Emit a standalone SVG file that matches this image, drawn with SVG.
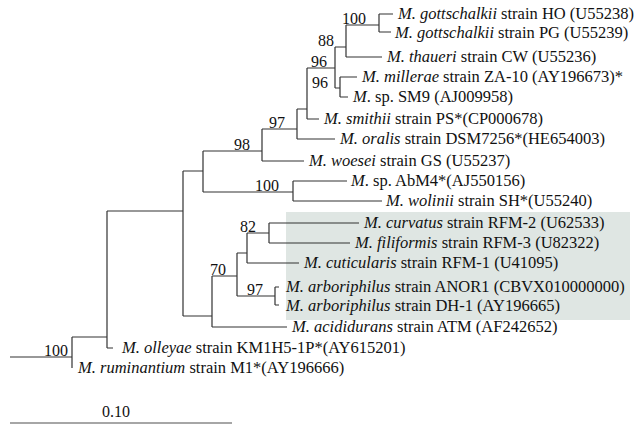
<svg xmlns="http://www.w3.org/2000/svg" width="644" height="434" viewBox="0 0 644 434">
<style>
.t{font-family:"Liberation Serif","Times New Roman",serif;font-size:16px;fill:#111}
.tip{font-size:16.5px}
.i{font-style:italic}
.bs{text-anchor:end}
.br{fill:none;stroke:#333;stroke-width:1.2}
.sb{fill:none;stroke:#888;stroke-width:1.6}
</style>
<rect id="highlight" x="286" y="212" width="344" height="108" fill="#dfe6e3"/>
<g id="connectors">
<path class="br" d="M10,357H72M72,337V368M72,337H107M107,211V348M107,348H113M107,211H183M183,171V316M183,171H203M203,151V192M183,316H212M212,276V327M212,327H287M212,276H237M237,253V296M237,253H247M247,233V263M247,233H269M269,223V243M269,223H359M269,243H350M247,263H299M237,296H275M275,287V305M275,287H279M275,305H279M203,151H262M262,129V161M262,161H304M203,192H293M293,181V201M293,181H347M293,201H382M262,129H297M297,109V139M297,139H335M297,109H307M307,68V119M307,119H319M307,68H335M335,47V88M335,47H346M346,25V57M346,57H382M346,25H379M379,14V32M379,14H393M379,32H391M335,88H340M340,77V97M340,77H357M340,97H348"/>
</g>
<g id="tip-gottschalkii-HO"><text class="t tip" x="398" y="18.5"><tspan class="i">M. gottschalkii</tspan> strain HO (U55238)</text></g>
<g id="tip-gottschalkii-PG"><text class="t tip" x="395" y="37.5"><tspan class="i">M. gottschalkii</tspan> strain PG (U55239)</text></g>
<g id="tip-thaueri"><text class="t tip" x="387" y="62"><tspan class="i">M. thaueri</tspan> strain CW (U55236)</text></g>
<g id="tip-millerae"><text class="t tip" x="362" y="82"><tspan class="i">M. millerae</tspan> strain ZA-10 (AY196673)*</text></g>
<g id="tip-SM9"><text class="t tip" x="353" y="102"><tspan class="i">M</tspan>. sp. SM9 (AJ009958)</text></g>
<g id="tip-smithii"><text class="t tip" x="324" y="124"><tspan class="i">M. smithii</tspan> strain PS*(CP000678)</text></g>
<g id="tip-oralis"><text class="t tip" x="340" y="144"><tspan class="i">M. oralis</tspan> strain DSM7256*(HE654003)</text></g>
<g id="tip-woesei"><text class="t tip" x="309" y="166"><tspan class="i">M. woesei</tspan> strain GS (U55237)</text></g>
<g id="tip-AbM4"><text class="t tip" x="351" y="186"><tspan class="i">M</tspan>. sp. AbM4*(AJ550156)</text></g>
<g id="tip-wolinii"><text class="t tip" x="386" y="206"><tspan class="i">M. wolinii</tspan> strain SH*(U55240)</text></g>
<g id="tip-curvatus"><text class="t tip" x="364" y="228"><tspan class="i">M. curvatus</tspan> strain RFM-2 (U62533)</text></g>
<g id="tip-filiformis"><text class="t tip" x="355" y="248"><tspan class="i">M. filiformis</tspan> strain RFM-3 (U82322)</text></g>
<g id="tip-cuticularis"><text class="t tip" x="304" y="268"><tspan class="i">M. cuticularis</tspan> strain RFM-1 (U41095)</text></g>
<g id="tip-arboriphilus-ANOR1"><text class="t tip" x="286" y="291.5"><tspan class="i">M. arboriphilus</tspan> strain ANOR1 (CBVX010000000)</text></g>
<g id="tip-arboriphilus-DH1"><text class="t tip" x="286" y="310.5"><tspan class="i">M. arboriphilus</tspan> strain DH-1 (AY196665)</text></g>
<g id="tip-acididurans"><text class="t tip" x="292" y="332"><tspan class="i">M. acididurans</tspan> strain ATM (AF242652)</text></g>
<g id="tip-olleyae"><text class="t tip" x="122" y="353"><tspan class="i">M. olleyae</tspan> strain KM1H5-1P*(AY615201)</text></g>
<g id="tip-ruminantium"><text class="t tip" x="78" y="373"><tspan class="i">M. ruminantium</tspan> strain M1*(AY196666)</text></g>
<g id="bs-100a"><text class="t bs" x="366" y="24">100</text></g>
<g id="bs-88"><text class="t bs" x="334" y="46">88</text></g>
<g id="bs-96a"><text class="t bs" x="327" y="67">96</text></g>
<g id="bs-96b"><text class="t bs" x="328" y="88">96</text></g>
<g id="bs-97a"><text class="t bs" x="285" y="128">97</text></g>
<g id="bs-98"><text class="t bs" x="250" y="150">98</text></g>
<g id="bs-100b"><text class="t bs" x="279" y="191">100</text></g>
<g id="bs-82"><text class="t bs" x="256" y="232">82</text></g>
<g id="bs-70"><text class="t bs" x="226" y="275">70</text></g>
<g id="bs-97b"><text class="t bs" x="263" y="295">97</text></g>
<g id="bs-100root"><text class="t bs" x="68" y="356">100</text></g>
<g id="scale-bar">
<text class="t" x="116" y="417" text-anchor="middle">0.10</text>
<path class="sb" d="M10,423H232"/>
</g>
</svg>
